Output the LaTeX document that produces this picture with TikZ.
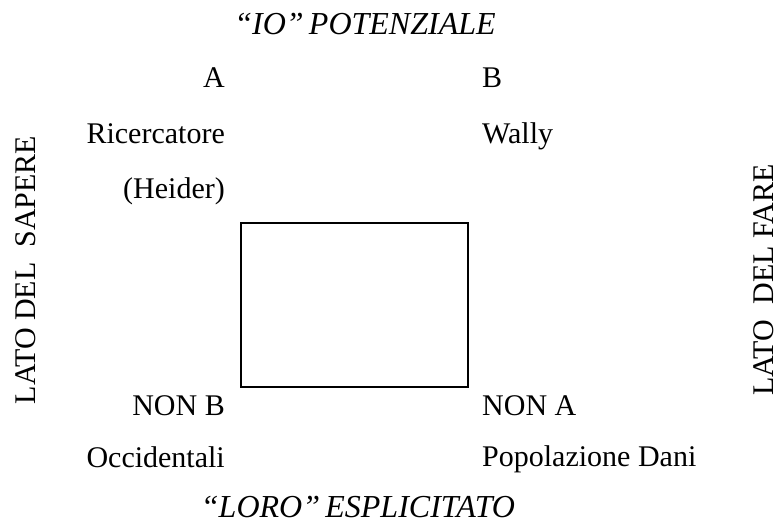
\documentclass[tikz,border=0pt]{standalone}
\usepackage{fontspec}
\setmainfont{Liberation Serif}
\tikzset{
  lab/.style={font=\fontsize{30}{36}\selectfont, inner sep=0pt},
  leftlab/.style={lab, anchor=base east},
  rightlab/.style={lab, anchor=base west},
  pole/.style={lab, anchor=base, font=\fontsize{32}{38}\selectfont\itshape},
  side/.style={lab, anchor=base, rotate=90},
  square/.style={draw, line width=1.6pt}
}

\begin{document}
\begin{tikzpicture}[x=1pt,y=1pt]
\useasboundingbox (0,0) rectangle (778,-524);
\node[square, minimum width=227pt, minimum height=164pt, anchor=north west] (box) at (240,-222) {};
\node[pole] (io) at (365,-35) {``IO''\,POTENZIALE};
\node[pole] (loro) at (358,-517) {``LORO''\,ESPLICITATO};
% lato sinistro
\node[leftlab] (a) at (225,-88) {A};
\node[leftlab] (ric) at (225,-143) {Ricercatore};
\node[leftlab] (heider) at (225,-198) {(Heider)};
\node[leftlab] (nonb) at (225,-415) {NON B};
\node[leftlab] (occ) at (225,-467) {Occidentali};
% lato destro
\node[rightlab] (b) at (482,-88) {B};
\node[rightlab] (wally) at (482,-143) {Wally};
\node[rightlab] (nona) at (482,-415) {NON A};
\node[rightlab] (dani) at (482,-466) {Popolazione Dani};
% lati verticali
\node[side] (sapere) at (35,-270) {LATO DEL\hspace{0.5em}SAPERE};
\node[side] (fare) at (773,-280) {LATO\hspace{0.5em}DEL FARE};
\end{tikzpicture}
\end{document}
